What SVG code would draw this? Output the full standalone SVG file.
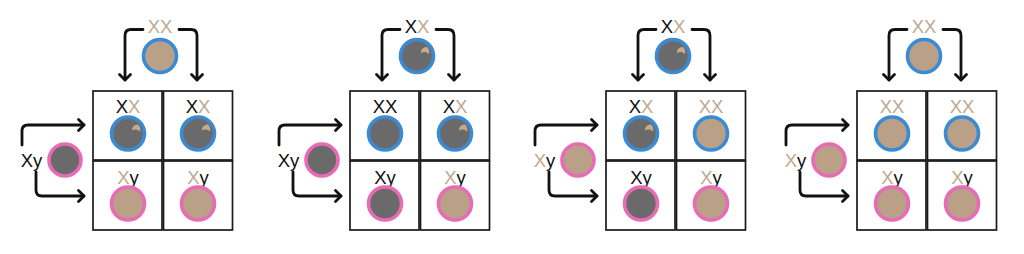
<svg xmlns="http://www.w3.org/2000/svg" width="1024" height="254" viewBox="0 0 1024 254">
<style>
.cell{fill:#fff;stroke:#1a1a1a;stroke-width:1.7}
.f{stroke:#3b8bd4;stroke-width:3.6}
.m{stroke:#e86bb5;stroke-width:3.6}
.d{fill:#6a6a6a}
.t{fill:#b9a087}
.lbl{font-family:"Liberation Sans",Arial,sans-serif;font-size:18.5px;text-anchor:middle;fill:#111}
.b{fill:#111}
.tn{fill:#bfa98f}
.con{fill:none;stroke:#111;stroke-width:2.8;stroke-linecap:round;stroke-linejoin:round}
.spot{fill:#c9a98a}
</style>
<defs>
<marker id="ah" viewBox="-8 -8 10 16" markerWidth="10" markerHeight="16" refX="0" refY="0" orient="auto" markerUnits="userSpaceOnUse">
<path d="M-5.5,-5.5 L0,0 L-5.5,5.5" fill="none" stroke="#111" stroke-width="2.8" stroke-linecap="round" stroke-linejoin="round"/>
</marker>
<path id="sp" d="M4,-3 A5.5 5.5 0 0 1 10,-9 A7 7 0 0 1 12,-2 A6 6 0 0 0 4,-3 Z"/>
</defs>
<rect width="1024" height="254" fill="#fff"/>

<!-- Panel 1 -->
<g id="panel1" transform="translate(93,0)">
<g id="p1-conn">
<path class="con" d="M50,29.5 H38 Q32,29.5 32,35.5 V80" marker-end="url(#ah)"/>
<path class="con" d="M86,29.5 H98 Q104,29.5 104,35.5 V80" marker-end="url(#ah)"/>
<path class="con" d="M-71,145 V131 Q-71,125 -65,125 H-9" marker-end="url(#ah)"/>
<path class="con" d="M-57,172 V190 Q-57,196 -51,196 H-9" marker-end="url(#ah)"/>
</g>
<g id="p1-mother"><text class="lbl" x="67" y="32.5"><tspan class="tn">X</tspan><tspan class="tn">X</tspan></text><circle class="t f" cx="67" cy="56" r="16.5"/></g>
<g id="p1-father"><text class="lbl" x="-61.5" y="166.5"><tspan class="b">X</tspan><tspan class="b">y</tspan></text><circle class="d m" cx="-28" cy="160" r="16"/></g>
<g id="p1-c1"><rect class="cell" x="0" y="91" width="69" height="69"/><text class="lbl" x="35" y="112.5"><tspan class="b">X</tspan><tspan class="tn">X</tspan></text><circle class="d f" cx="35" cy="133.5" r="16.5"/><use href="#sp" class="spot" transform="translate(35,133.5)"/></g>
<g id="p1-c2"><rect class="cell" x="70.5" y="91" width="69" height="69"/><text class="lbl" x="105" y="112.5"><tspan class="b">X</tspan><tspan class="tn">X</tspan></text><circle class="d f" cx="105" cy="133.5" r="16.5"/><use href="#sp" class="spot" transform="translate(105,133.5)"/></g>
<g id="p1-c3"><rect class="cell" x="0" y="161" width="69" height="69"/><text class="lbl" x="35" y="184"><tspan class="tn">X</tspan><tspan class="b">y</tspan></text><circle class="t m" cx="35" cy="203.5" r="16.5"/></g>
<g id="p1-c4"><rect class="cell" x="70.5" y="161" width="69" height="69"/><text class="lbl" x="105" y="184"><tspan class="tn">X</tspan><tspan class="b">y</tspan></text><circle class="t m" cx="105" cy="203.5" r="16.5"/></g>
</g>

<!-- Panel 2 -->
<g id="panel2" transform="translate(350,0)">
<g id="p2-conn">
<path class="con" d="M50,29.5 H38 Q32,29.5 32,35.5 V80" marker-end="url(#ah)"/>
<path class="con" d="M86,29.5 H98 Q104,29.5 104,35.5 V80" marker-end="url(#ah)"/>
<path class="con" d="M-71,145 V131 Q-71,125 -65,125 H-9" marker-end="url(#ah)"/>
<path class="con" d="M-57,172 V190 Q-57,196 -51,196 H-9" marker-end="url(#ah)"/>
</g>
<g id="p2-mother"><text class="lbl" x="67" y="32.5"><tspan class="b">X</tspan><tspan class="tn">X</tspan></text><circle class="d f" cx="67" cy="56" r="16.5"/><use href="#sp" class="spot" transform="translate(67,56)"/></g>
<g id="p2-father"><text class="lbl" x="-61.5" y="166.5"><tspan class="b">X</tspan><tspan class="b">y</tspan></text><circle class="d m" cx="-28" cy="160" r="16"/></g>
<g id="p2-c1"><rect class="cell" x="0" y="91" width="69" height="69"/><text class="lbl" x="35" y="112.5"><tspan class="b">X</tspan><tspan class="b">X</tspan></text><circle class="d f" cx="35" cy="133.5" r="16.5"/></g>
<g id="p2-c2"><rect class="cell" x="70.5" y="91" width="69" height="69"/><text class="lbl" x="105" y="112.5"><tspan class="b">X</tspan><tspan class="tn">X</tspan></text><circle class="d f" cx="105" cy="133.5" r="16.5"/><use href="#sp" class="spot" transform="translate(105,133.5)"/></g>
<g id="p2-c3"><rect class="cell" x="0" y="161" width="69" height="69"/><text class="lbl" x="35" y="184"><tspan class="b">X</tspan><tspan class="b">y</tspan></text><circle class="d m" cx="35" cy="203.5" r="16.5"/></g>
<g id="p2-c4"><rect class="cell" x="70.5" y="161" width="69" height="69"/><text class="lbl" x="105" y="184"><tspan class="tn">X</tspan><tspan class="b">y</tspan></text><circle class="t m" cx="105" cy="203.5" r="16.5"/></g>
</g>

<!-- Panel 3 -->
<g id="panel3" transform="translate(606,0)">
<g id="p3-conn">
<path class="con" d="M50,29.5 H38 Q32,29.5 32,35.5 V80" marker-end="url(#ah)"/>
<path class="con" d="M86,29.5 H98 Q104,29.5 104,35.5 V80" marker-end="url(#ah)"/>
<path class="con" d="M-71,145 V131 Q-71,125 -65,125 H-9" marker-end="url(#ah)"/>
<path class="con" d="M-57,172 V190 Q-57,196 -51,196 H-9" marker-end="url(#ah)"/>
</g>
<g id="p3-mother"><text class="lbl" x="67" y="32.5"><tspan class="b">X</tspan><tspan class="tn">X</tspan></text><circle class="d f" cx="67" cy="56" r="16.5"/><use href="#sp" class="spot" transform="translate(67,56)"/></g>
<g id="p3-father"><text class="lbl" x="-61.5" y="166.5"><tspan class="tn">X</tspan><tspan class="b">y</tspan></text><circle class="t m" cx="-28" cy="160" r="16"/></g>
<g id="p3-c1"><rect class="cell" x="0" y="91" width="69" height="69"/><text class="lbl" x="35" y="112.5"><tspan class="b">X</tspan><tspan class="tn">X</tspan></text><circle class="d f" cx="35" cy="133.5" r="16.5"/><use href="#sp" class="spot" transform="translate(35,133.5)"/></g>
<g id="p3-c2"><rect class="cell" x="70.5" y="91" width="69" height="69"/><text class="lbl" x="105" y="112.5"><tspan class="tn">X</tspan><tspan class="tn">X</tspan></text><circle class="t f" cx="105" cy="133.5" r="16.5"/></g>
<g id="p3-c3"><rect class="cell" x="0" y="161" width="69" height="69"/><text class="lbl" x="35" y="184"><tspan class="b">X</tspan><tspan class="b">y</tspan></text><circle class="d m" cx="35" cy="203.5" r="16.5"/></g>
<g id="p3-c4"><rect class="cell" x="70.5" y="161" width="69" height="69"/><text class="lbl" x="105" y="184"><tspan class="tn">X</tspan><tspan class="b">y</tspan></text><circle class="t m" cx="105" cy="203.5" r="16.5"/></g>
</g>

<!-- Panel 4 -->
<g id="panel4" transform="translate(857,0)">
<g id="p4-conn">
<path class="con" d="M50,29.5 H38 Q32,29.5 32,35.5 V80" marker-end="url(#ah)"/>
<path class="con" d="M86,29.5 H98 Q104,29.5 104,35.5 V80" marker-end="url(#ah)"/>
<path class="con" d="M-71,145 V131 Q-71,125 -65,125 H-9" marker-end="url(#ah)"/>
<path class="con" d="M-57,172 V190 Q-57,196 -51,196 H-9" marker-end="url(#ah)"/>
</g>
<g id="p4-mother"><text class="lbl" x="67" y="32.5"><tspan class="tn">X</tspan><tspan class="tn">X</tspan></text><circle class="t f" cx="67" cy="56" r="16.5"/></g>
<g id="p4-father"><text class="lbl" x="-61.5" y="166.5"><tspan class="tn">X</tspan><tspan class="b">y</tspan></text><circle class="t m" cx="-28" cy="160" r="16"/></g>
<g id="p4-c1"><rect class="cell" x="0" y="91" width="69" height="69"/><text class="lbl" x="35" y="112.5"><tspan class="tn">X</tspan><tspan class="tn">X</tspan></text><circle class="t f" cx="35" cy="133.5" r="16.5"/></g>
<g id="p4-c2"><rect class="cell" x="70.5" y="91" width="69" height="69"/><text class="lbl" x="105" y="112.5"><tspan class="tn">X</tspan><tspan class="tn">X</tspan></text><circle class="t f" cx="105" cy="133.5" r="16.5"/></g>
<g id="p4-c3"><rect class="cell" x="0" y="161" width="69" height="69"/><text class="lbl" x="35" y="184"><tspan class="tn">X</tspan><tspan class="b">y</tspan></text><circle class="t m" cx="35" cy="203.5" r="16.5"/></g>
<g id="p4-c4"><rect class="cell" x="70.5" y="161" width="69" height="69"/><text class="lbl" x="105" y="184"><tspan class="tn">X</tspan><tspan class="b">y</tspan></text><circle class="t m" cx="105" cy="203.5" r="16.5"/></g>
</g>
</svg>
